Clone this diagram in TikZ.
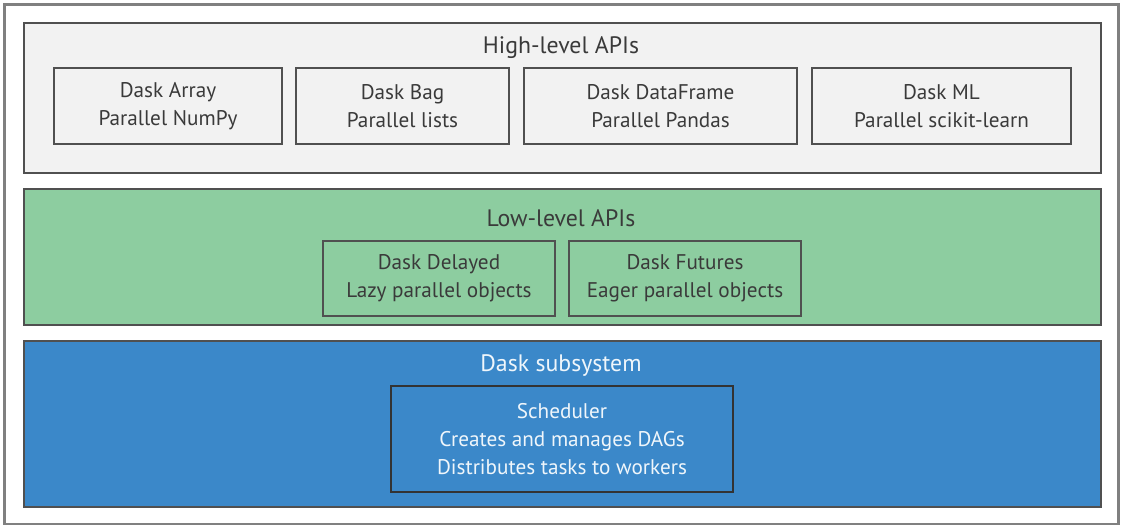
\documentclass[tikz,border=0pt]{standalone}
\usepackage{fontspec}
\setmainfont{PT Sans}
\definecolor{hlfill}{HTML}{F2F2F2}
\definecolor{llfill}{HTML}{8DCDA0}
\definecolor{subfill}{HTML}{3B88C9}
\definecolor{edge}{HTML}{505050}
\definecolor{ink}{HTML}{3A3A3A}
\tikzset{
  apibox/.style={draw=edge, line width=0.8pt, align=center, text=ink,
    font=\fontsize{10.6}{14}\selectfont, inner sep=0pt},
  title/.style={font=\fontsize{11.9}{14}\selectfont, text=ink}
}
\begin{document}
\begin{tikzpicture}[x=0.5pt,y=-0.5pt]
    \useasboundingbox (0,0) rectangle (1122,527);
    \draw[line width=1.1pt, draw=gray] (4.5,4.5) rectangle (1118.5,524);
    % layers
    \draw[line width=0.8pt, draw=edge, fill=hlfill] (24,23) rectangle (1101,173);
    \draw[line width=0.8pt, draw=edge, fill=llfill] (24,189) rectangle (1101,325);
    \draw[line width=0.8pt, draw=edge, fill=subfill] (24,341) rectangle (1101,507);
    \node[title] (high) at (561,48) {High-level APIs};
    \node[title] (low) at (561,218) {Low-level APIs};
    \node[title, text=white!92!subfill] (sub) at (561,365) {Dask subsystem};
    % high-level APIs
    \node[apibox, minimum width=114pt, minimum height=38pt] (array) at (168,106) {Dask Array\\Parallel NumPy};
    \node[apibox, minimum width=106.5pt, minimum height=38pt] (bag) at (402.5,106) {Dask Bag\\Parallel lists};
    \node[apibox, minimum width=136.5pt, minimum height=38pt] (frame) at (660.5,106) {Dask DataFrame\\Parallel Pandas};
    \node[apibox, minimum width=129.5pt, minimum height=38pt] (ml) at (941.5,106) {Dask ML\\Parallel scikit-learn};
    % low-level APIs
    \node[apibox, minimum width=116pt, minimum height=37.5pt] (delayed) at (439,278.5) {Dask Delayed\\Lazy parallel objects};
    \node[apibox, minimum width=116pt, minimum height=37.5pt] (futures) at (685,278.5) {Dask Futures\\Eager parallel objects};
    % subsystem
    \node[apibox, draw=black!80, text=white!92!subfill, minimum width=171pt, minimum height=53pt] (sched) at (562,439) {Scheduler\\Creates and manages DAGs\\Distributes tasks to workers};
\end{tikzpicture}
\end{document}
